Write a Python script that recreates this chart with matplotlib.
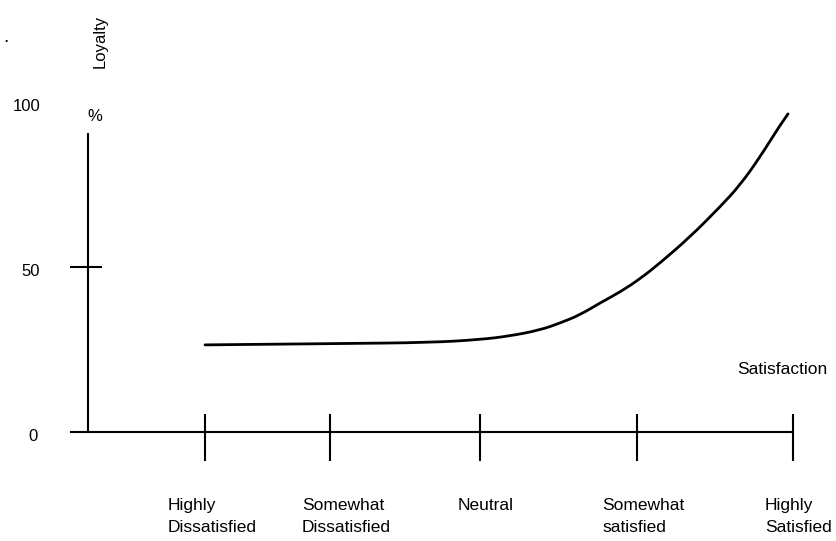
import numpy as np
import matplotlib.pyplot as plt
from matplotlib.path import Path
from matplotlib.patches import PathPatch

plt.rcParams.update({
    'font.size': 12.5,
    'font.family': 'sans-serif',
    'font.sans-serif': ['Liberation Sans', 'Arial', 'DejaVu Sans'],
})

# satisfaction categories and where their ticks sit on the horizontal axis
categories = ['Highly\nDissatisfied', 'Somewhat\nDissatisfied', 'Neutral',
              'Somewhat\nsatisfied', 'Highly\nSatisfied']
cat_pos = [205, 330, 480, 637, 793]

# loyalty (%) scale marks
y_marks = [0, 50, 100]

# loyalty curve
curve_x = [205, 340, 430, 480, 510, 540, 560, 580, 600, 620, 640, 660,
           690, 720, 740, 760, 780, 788]
curve_y = [26.4, 26.8, 27.1, 28.0, 29.1, 30.9, 33.0, 35.5, 39.1, 42.4, 46.4,
           51.2, 59.1, 68.2, 74.8, 83.3, 93.0, 96.4]


def smooth_path(xs, ys):
    # quadratic bezier through midpoints, so the hand drawn curve has no corners
    pts = list(zip(xs, ys))
    verts = [pts[0]]
    codes = [Path.MOVETO]
    n = len(pts)
    for i in range(1, n - 1):
        if i == n - 2:
            end = pts[-1]
        else:
            end = ((pts[i][0] + pts[i + 1][0]) / 2, (pts[i][1] + pts[i + 1][1]) / 2)
        verts += [pts[i], end]
        codes += [Path.CURVE3, Path.CURVE3]
    return Path(verts, codes)


fig = plt.figure(figsize=(8.37, 5.41), dpi=100)
ax = fig.add_axes([0, 0, 1, 1])
ax.set_xlim(0, 837)
# 3.3 px per % with 0 sitting at pixel row 432
ax.set_ylim((432 - 541) / 3.3, 432 / 3.3)
ax.axis('off')

lw = 1.5
# axes
ax.plot([88, 88], [0, 90.6], color='black', lw=lw, solid_capstyle='butt')
ax.plot([70, cat_pos[-1]], [0, 0], color='black', lw=lw, solid_capstyle='butt')
ax.plot([70, 102], [50, 50], color='black', lw=lw, solid_capstyle='butt')

# category ticks
for x in cat_pos:
    ax.plot([x, x], [5.5, -8.8], color='black', lw=lw, solid_capstyle='butt')

# category labels (left aligned under each tick)
label_off = [-37, -28, -22, -35, -28]
for x, off, lab in zip(cat_pos, label_off, categories):
    ax.text(x + off, -20.0, lab, ha='left', va='top', linespacing=1.55)

# y scale numbers
y_text_x = [33, 31, 27]
for v, tx in zip(y_marks, y_text_x):
    ax.text(tx, v - 1.3, str(v), ha='center', va='center', fontsize=12)

ax.add_patch(PathPatch(smooth_path(curve_x, curve_y), fill=False,
                       edgecolor='black', lw=2.0, capstyle='round'))

ax.text(95, 95.5, '%', ha='center', va='center', fontsize=12)
ax.text(100, 118.5, 'Loyalty', rotation=90, ha='center', va='center', fontsize=12)
ax.text(782, 18.9, 'Satisfaction', ha='center', va='center')
ax.text(6, 119.5, '.', ha='center', va='center', fontsize=14)

fig.savefig('out.png', dpi=100)
